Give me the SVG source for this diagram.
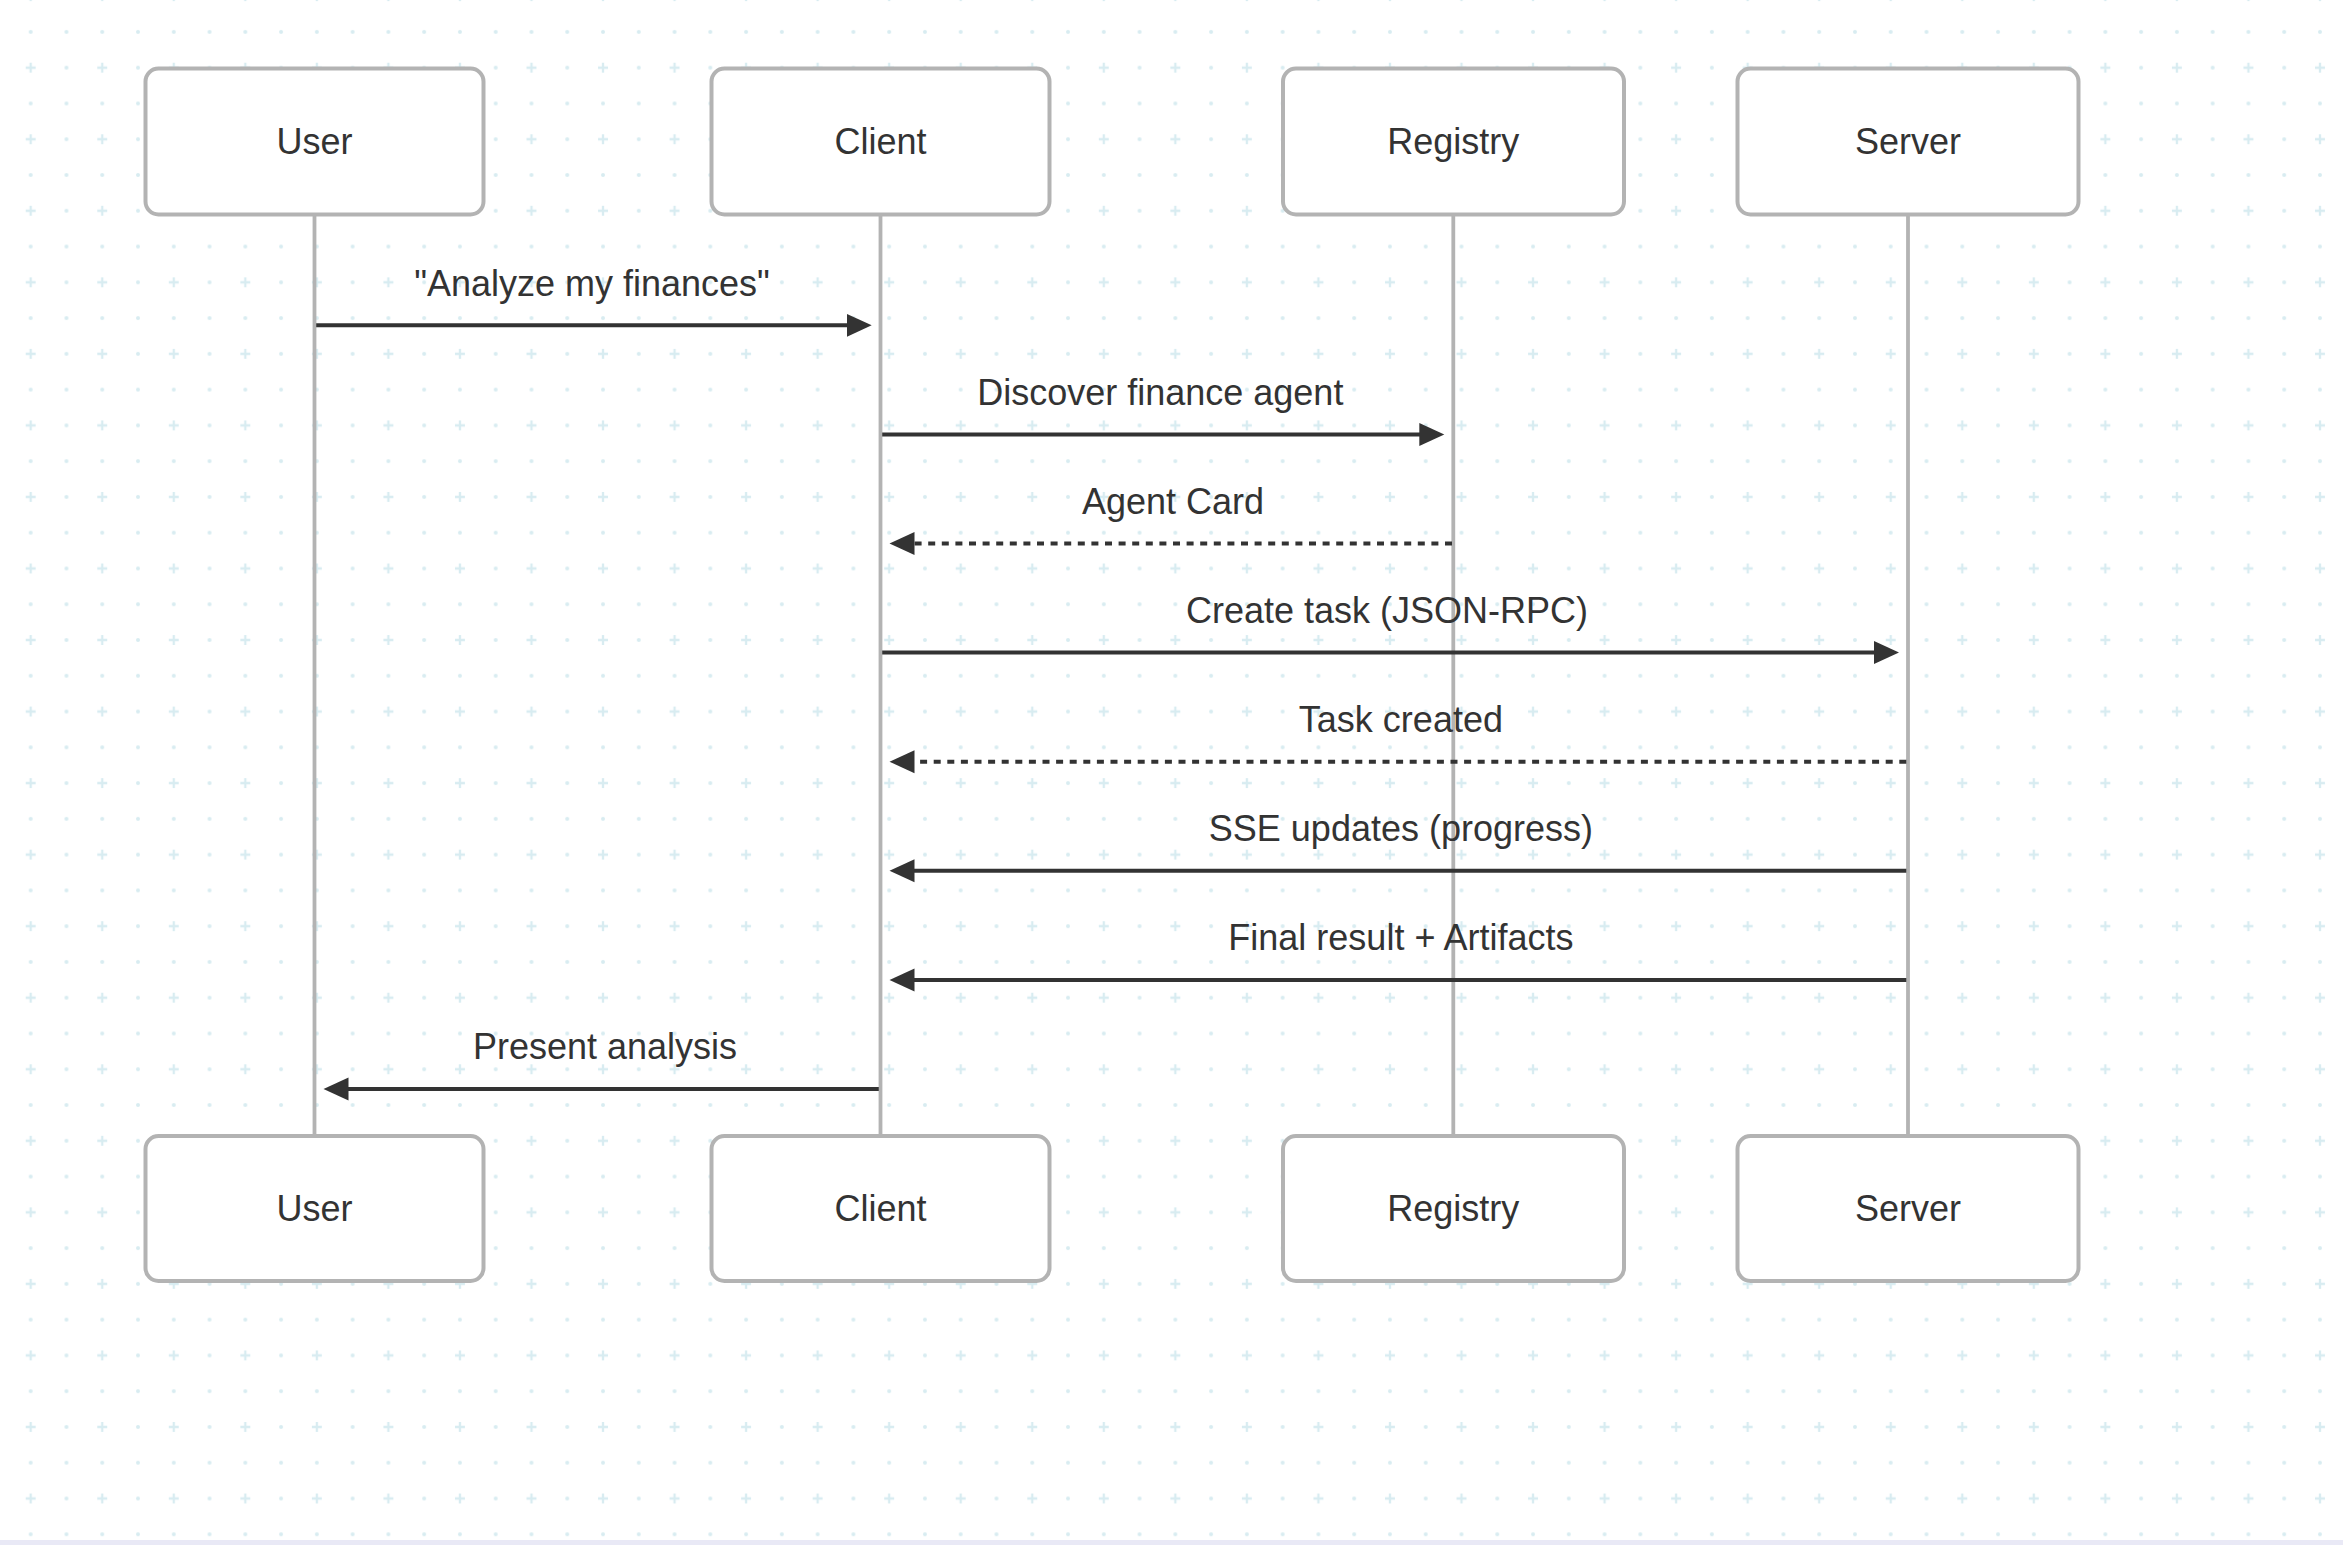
<svg xmlns="http://www.w3.org/2000/svg" width="2343" height="1545" viewBox="0 0 2343 1545">
  <style>
    .actor rect { fill: #ffffff; stroke: #b3b3b3; stroke-width: 4; }
    .actor text { font-family: "Liberation Sans", Arial, sans-serif; font-size: 36px; fill: #333333; text-anchor: middle; }
    .lifeline { stroke: #b3b3b3; stroke-width: 3.8; }
    .msg { stroke: #333333; stroke-width: 4; fill: none; marker-end: url(#arrowhead); }
    .dotted { stroke-dasharray: 7 6.6; }
    .label { font-family: "Liberation Sans", Arial, sans-serif; font-size: 36px; fill: #333333; text-anchor: middle; }
  </style>
  <defs>
    <pattern id="grid" patternUnits="userSpaceOnUse" x="12.815" y="49.815" width="71.54" height="71.54">
      <g fill="#d8ecf1">
        <circle cx="53.65" cy="17.885" r="2"/>
        <circle cx="17.885" cy="53.65" r="2"/>
        <circle cx="53.65" cy="53.65" r="2"/>
      </g>
      <path d="M12.9 17.885 H22.9 M17.885 12.9 V22.9" stroke="#d8ecf1" stroke-width="2.3"/>
    </pattern>
    <marker id="arrowhead" markerUnits="userSpaceOnUse" markerWidth="26" markerHeight="24" refX="15" refY="12" orient="auto">
      <path d="M0,0.5 L25,12 L0,23.5 Z" fill="#333333"/>
    </marker>
  </defs>

  <!-- background -->
  <rect x="0" y="0" width="2343" height="1545" fill="#ffffff"/>
  <rect x="0" y="0" width="2343" height="1540" fill="url(#grid)"/>
  <rect x="0" y="1540" width="2343" height="5" fill="#e9e9f6"/>

  <!-- lifelines -->
  <g id="lifelines">
    <line class="lifeline" x1="314.5" y1="216" x2="314.5" y2="1136"/>
    <line class="lifeline" x1="880.5" y1="216" x2="880.5" y2="1136"/>
    <line class="lifeline" x1="1453.3" y1="216" x2="1453.3" y2="1136"/>
    <line class="lifeline" x1="1908" y1="216" x2="1908" y2="1136"/>
  </g>

  <!-- participants, top row -->
  <g id="user-top" class="actor">
    <rect x="145.5" y="68.5" width="338" height="146" rx="13"/>
    <text x="314.5" y="154">User</text>
  </g>
  <g id="client-top" class="actor">
    <rect x="711.5" y="68.5" width="338" height="146" rx="13"/>
    <text x="880.5" y="154">Client</text>
  </g>
  <g id="registry-top" class="actor">
    <rect x="1283" y="68.5" width="341" height="146" rx="13"/>
    <text x="1453.3" y="154">Registry</text>
  </g>
  <g id="server-top" class="actor">
    <rect x="1737.5" y="68.5" width="341" height="146" rx="13"/>
    <text x="1908" y="154">Server</text>
  </g>

  <!-- participants, bottom row -->
  <g id="user-bottom" class="actor">
    <rect x="145.5" y="1136" width="338" height="145" rx="13"/>
    <text x="314.5" y="1220.5">User</text>
  </g>
  <g id="client-bottom" class="actor">
    <rect x="711.5" y="1136" width="338" height="145" rx="13"/>
    <text x="880.5" y="1220.5">Client</text>
  </g>
  <g id="registry-bottom" class="actor">
    <rect x="1283" y="1136" width="341" height="145" rx="13"/>
    <text x="1453.3" y="1220.5">Registry</text>
  </g>
  <g id="server-bottom" class="actor">
    <rect x="1737.5" y="1136" width="341" height="145" rx="13"/>
    <text x="1908" y="1220.5">Server</text>
  </g>

  <!-- messages -->
  <g id="messages">
    <line class="msg" x1="316.2" y1="325.3" x2="861.7" y2="325.3"/>
    <line class="msg" x1="882.2" y1="434.4" x2="1434.3" y2="434.4"/>
    <line class="msg dotted" x1="1452" y1="543.5" x2="899.5" y2="543.5"/>
    <line class="msg" x1="882.2" y1="652.6" x2="1889" y2="652.6"/>
    <line class="msg dotted" x1="1906.3" y1="761.7" x2="899.5" y2="761.7"/>
    <line class="msg" x1="1906.3" y1="870.8" x2="899.5" y2="870.8"/>
    <line class="msg" x1="1906.3" y1="979.9" x2="899.5" y2="979.9"/>
    <line class="msg" x1="878.8" y1="1089" x2="333.5" y2="1089"/>
  </g>

  <!-- message labels -->
  <g id="message-labels">
    <text class="label" x="592" y="295.5">"Analyze my finances"</text>
    <text class="label" x="1160.3" y="404.6">Discover finance agent</text>
    <text class="label" x="1173" y="513.7">Agent Card</text>
    <text class="label" x="1387" y="622.8">Create task (JSON-RPC)</text>
    <text class="label" x="1400.9" y="731.9">Task created</text>
    <text class="label" x="1400.9" y="841">SSE updates (progress)</text>
    <text class="label" x="1400.9" y="950.1">Final result + Artifacts</text>
    <text class="label" x="605" y="1059.2">Present analysis</text>
  </g>
</svg>
